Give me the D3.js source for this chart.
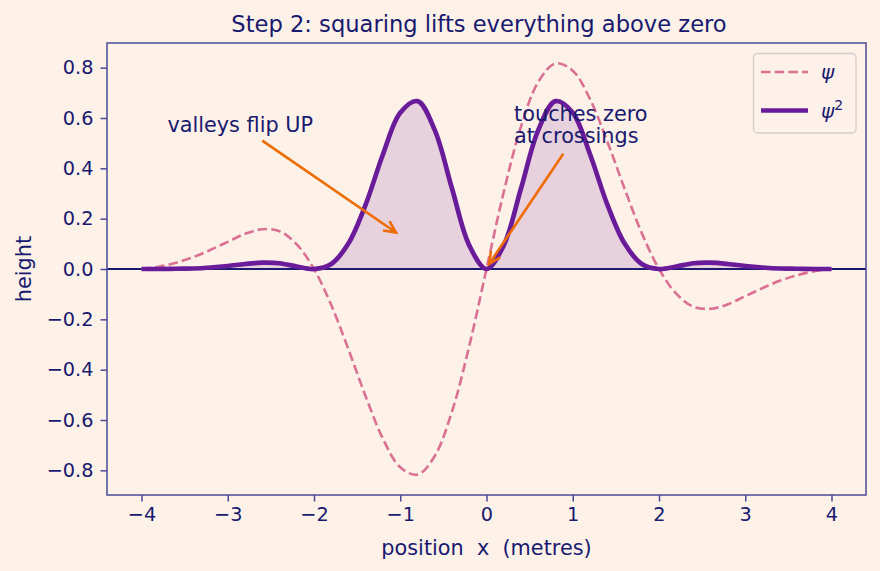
<!DOCTYPE html>
<html>
<head>
<meta charset="utf-8">
<script src="https://cdn.jsdelivr.net/npm/d3@7"></script>
<style>
  html, body { margin: 0; padding: 0; background: #fdf1e8; }
  svg { display: block; font-family: "DejaVu Sans", sans-serif; }
</style>
</head>
<body>
<svg id="chart" width="880" height="571"></svg>
<script>
// ---- data ----
const positions = [-4.0, -3.8, -3.6, -3.4, -3.2, -3.0, -2.8, -2.6, -2.4, -2.2, -2.0,
  -1.8, -1.6, -1.4, -1.2, -1.0, -0.8, -0.6, -0.4, -0.2, 0.0,
  0.2, 0.4, 0.6, 0.8, 1.0, 1.2, 1.4, 1.6, 1.8, 2.0,
  2.2, 2.4, 2.6, 2.8, 3.0, 3.2, 3.4, 3.6, 3.8, 4.0];
const psiValues = [0, 0.009, 0.025, 0.047, 0.076, 0.108, 0.140, 0.158, 0.150, 0.098, 0,
  -0.143, -0.320, -0.507, -0.675, -0.788, -0.817, -0.743, -0.566, -0.306, 0,
  0.306, 0.566, 0.743, 0.817, 0.788, 0.675, 0.507, 0.320, 0.143, 0,
  -0.098, -0.150, -0.158, -0.140, -0.108, -0.076, -0.047, -0.025, -0.009, 0];
const psiSqValues = [0, 0.000, 0.001, 0.002, 0.006, 0.012, 0.020, 0.025, 0.023, 0.010, 0,
  0.020, 0.102, 0.257, 0.456, 0.621, 0.667, 0.552, 0.320, 0.094, 0,
  0.094, 0.320, 0.552, 0.667, 0.621, 0.456, 0.257, 0.102, 0.020, 0,
  0.010, 0.023, 0.025, 0.020, 0.012, 0.006, 0.002, 0.001, 0.000, 0];
const xTicks = [-4, -3, -2, -1, 0, 1, 2, 3, 4];
const yTicks = [-0.8, -0.6, -0.4, -0.2, 0.0, 0.2, 0.4, 0.6, 0.8];
const titleText = "Step 2: squaring lifts everything above zero";
const xLabel = "position  x  (metres)";
const yLabel = "height";
const annotations = [
  {lines: ["valleys flip UP"], textX: -3.7, textY: 0.545, fromX: -2.6, fromY: 0.51, toX: -1.05, toY: 0.145},
  {lines: ["touches zero", "at crossings"], textX: 0.32, textY: 0.59, fromX: 0.89, fromY: 0.458, toX: 0.03, toY: 0.02}
];

// ---- layout ----
const ink = "#191970", spine = "#4a4a96", bg = "#fdf1e8";
const psiColor = "#db7093", sqColor = "#6a1b9a", arrowColor = "#ef6c00";
const L = 107, R = 866, T = 43, B = 495;

const svg = d3.select("#chart");
svg.append("rect").attr("width", 880).attr("height", 571).attr("fill", bg);

const x = d3.scaleLinear().domain([-4.4, 4.4]).range([L, R]);
const y = d3.scaleLinear().domain([-0.898, 0.898]).range([B, T]);

const fmtMinus = s => s.replace("-", "\u2212");
const curve = d3.curveCatmullRom.alpha(0.5);

// clip
svg.append("clipPath").attr("id", "plotclip").append("rect")
  .attr("x", L).attr("y", T).attr("width", R - L).attr("height", B - T);
const plot = svg.append("g").attr("clip-path", "url(#plotclip)");

// zero line
plot.append("line").attr("x1", L).attr("x2", R).attr("y1", y(0)).attr("y2", y(0))
  .attr("stroke", ink).attr("stroke-width", 1.9);

const pts = positions.map((p, i) => ({x: p, psi: psiValues[i], sq: psiSqValues[i]}));

// fill under psi^2
plot.append("path").datum(pts)
  .attr("d", d3.area().x(d => x(d.x)).y0(y(0)).y1(d => y(d.sq)).curve(curve))
  .attr("fill", sqColor).attr("fill-opacity", 0.15);

// psi dashed
plot.append("path").datum(pts)
  .attr("d", d3.line().x(d => x(d.x)).y(d => y(d.psi)).curve(curve))
  .attr("fill", "none").attr("stroke", psiColor).attr("stroke-width", 2.6)
  .attr("stroke-dasharray", "9.5,4.2");

// psi^2 solid
plot.append("path").datum(pts)
  .attr("d", d3.line().x(d => x(d.x)).y(d => y(d.sq)).curve(curve))
  .attr("fill", "none").attr("stroke", sqColor).attr("stroke-width", 4.7)
  .attr("stroke-linejoin", "round").attr("stroke-linecap", "butt");

// axes
const xAxis = d3.axisBottom(x).tickValues(xTicks).tickSize(6.5).tickPadding(6)
  .tickFormat(d => fmtMinus(d3.format("d")(d)));
const yAxis = d3.axisLeft(y).tickValues(yTicks).tickSize(6.5).tickPadding(7)
  .tickFormat(d => fmtMinus(d3.format(".1f")(d)));

const gx = svg.append("g").attr("transform", `translate(0,${B})`).call(xAxis);
const gy = svg.append("g").attr("transform", `translate(${L},0)`).call(yAxis);
[gx, gy].forEach(g => {
  g.select(".domain").remove();
  g.selectAll(".tick line").attr("stroke", spine).attr("stroke-width", 1.5);
  g.selectAll(".tick text").attr("fill", ink).attr("font-size", 19.3)
    .attr("font-family", "DejaVu Sans");
});

// spines
svg.append("rect").attr("x", L).attr("y", T).attr("width", R - L).attr("height", B - T)
  .attr("fill", "none").attr("stroke", spine).attr("stroke-width", 1.5);

// annotations
const arrowHead = (x1, y1, x2, y2, len, ang) => {
  const a = Math.atan2(y1 - y2, x1 - x2);
  const p1 = [x2 + len * Math.cos(a + ang), y2 + len * Math.sin(a + ang)];
  const p2 = [x2 + len * Math.cos(a - ang), y2 + len * Math.sin(a - ang)];
  return `M${p1[0]},${p1[1]}L${x2},${y2}L${p2[0]},${p2[1]}`;
};
annotations.forEach(a => {
  const x1 = x(a.fromX), y1 = y(a.fromY), x2 = x(a.toX), y2 = y(a.toY);
  svg.append("line").attr("x1", x1).attr("y1", y1).attr("x2", x2).attr("y2", y2)
    .attr("stroke", arrowColor).attr("stroke-width", 2.6);
  svg.append("path").attr("d", arrowHead(x1, y1, x2, y2, 13, 0.45))
    .attr("fill", "none").attr("stroke", arrowColor).attr("stroke-width", 2.6)
    .attr("stroke-linejoin", "miter");
  const t = svg.append("text").attr("x", x(a.textX)).attr("y", y(a.textY))
    .attr("fill", ink).attr("font-size", 20.8);
  a.lines.forEach((ln, i) => {
    t.append("tspan").attr("x", x(a.textX)).attr("dy", i === 0 ? 0 : 22.5).text(ln);
  });
});

// title and labels
svg.append("text").attr("x", 479).attr("y", 32).attr("text-anchor", "middle")
  .attr("fill", ink).attr("font-size", 22.6).text(titleText);
svg.append("text").attr("x", (L + R) / 2).attr("y", 555).attr("text-anchor", "middle")
  .attr("fill", ink).attr("font-size", 20.8).style("white-space", "pre").text(xLabel);
svg.append("text").attr("transform", `translate(31,${(T + B) / 2}) rotate(-90)`)
  .attr("text-anchor", "middle").attr("fill", ink).attr("font-size", 20.8).text(yLabel);

// legend
const lg = svg.append("g");
lg.append("rect").attr("x", 753.5).attr("y", 53.5).attr("width", 102.5).attr("height", 79.5)
  .attr("rx", 4).attr("fill", bg).attr("fill-opacity", 0.8)
  .attr("stroke", "#d6cdca").attr("stroke-width", 1.3);
lg.append("line").attr("x1", 761).attr("x2", 808).attr("y1", 72).attr("y2", 72)
  .attr("stroke", psiColor).attr("stroke-width", 2.6).attr("stroke-dasharray", "9.5,4.2");
lg.append("line").attr("x1", 761).attr("x2", 808).attr("y1", 110.5).attr("y2", 110.5)
  .attr("stroke", sqColor).attr("stroke-width", 4.7);
lg.append("text").attr("x", 821).attr("y", 79).attr("fill", ink).attr("font-size", 20)
  .attr("font-style", "italic").text("\u03C8");
const t2 = lg.append("text").attr("x", 821).attr("y", 118).attr("fill", ink).attr("font-size", 20);
t2.append("tspan").attr("font-style", "italic").text("\u03C8");
t2.append("tspan").attr("font-size", 14).attr("dy", -8).text("2");
</script>
</body>
</html>
